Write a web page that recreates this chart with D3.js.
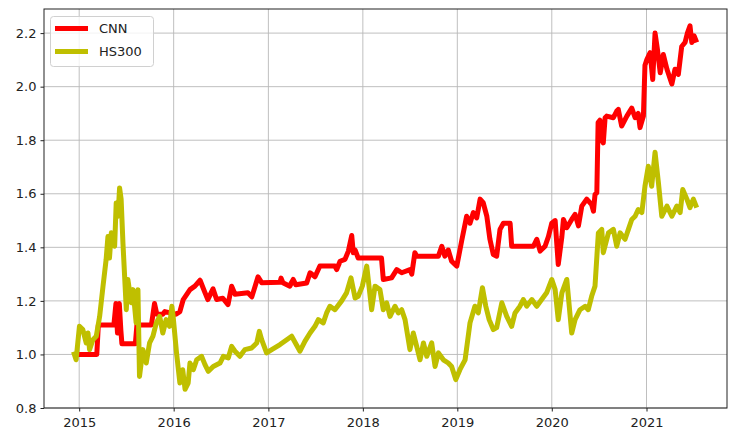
<!DOCTYPE html>
<html>
<head>
<meta charset="utf-8">
<script src="https://cdn.jsdelivr.net/npm/d3@7"></script>
<style>
  body { margin: 0; background: #fff; }
  svg { font-family: "DejaVu Sans", sans-serif; }
</style>
</head>
<body>
<svg id="grafico"></svg>
<script>
// datas e valores (CNN)
let datasCNN = [
  "2014-12-11","2015-03-10","2015-03-16","2015-05-15","2015-05-23","2015-05-29","2015-06-05","2015-06-11","2015-06-15","2015-08-06",
  "2015-08-12","2015-10-07","2015-10-19","2015-10-28","2015-11-20","2015-11-28","2016-01-10","2016-01-25","2016-02-07","2016-03-04",
  "2016-03-23","2016-04-12","2016-05-01","2016-05-12","2016-06-01","2016-06-15","2016-07-09","2016-07-29","2016-08-12","2016-08-25",
  "2016-10-14","2016-10-29","2016-11-22","2016-12-06","2017-02-15","2017-02-19","2017-02-26","2017-03-25","2017-04-01","2017-04-07",
  "2017-04-17","2017-05-29","2017-06-11","2017-06-30","2017-07-19","2017-09-15","2017-09-22","2017-10-05","2017-10-24","2017-11-06",
  "2017-11-19","2017-11-25","2017-12-02","2017-12-14","2018-03-14","2018-03-21","2018-04-22","2018-05-12","2018-05-31","2018-07-02",
  "2018-07-09","2018-07-21","2018-07-28","2018-10-20","2018-11-02","2018-11-14","2018-11-27","2018-12-10","2018-12-30","2019-01-18",
  "2019-02-06","2019-02-19","2019-03-04","2019-03-17","2019-03-30","2019-04-11","2019-04-25","2019-05-07","2019-05-20","2019-06-02",
  "2019-06-15","2019-06-28","2019-07-24","2019-07-30","2019-10-22","2019-11-04","2019-11-17","2019-12-06","2019-12-19","2020-01-01",
  "2020-01-14","2020-01-26","2020-02-09","2020-02-15","2020-02-28","2020-03-18","2020-03-31","2020-04-13","2020-04-26","2020-05-15",
  "2020-06-03","2020-06-10","2020-06-16","2020-06-23","2020-06-28","2020-07-05","2020-07-12","2020-07-18","2020-07-25","2020-07-31",
  "2020-08-26","2020-09-08","2020-09-14","2020-09-27","2020-10-17","2020-11-05","2020-11-18","2020-11-30","2020-12-07","2020-12-20",
  "2020-12-26","2021-01-02","2021-01-15","2021-01-25","2021-02-03","2021-02-12","2021-02-23","2021-03-07","2021-03-21","2021-04-09",
  "2021-04-21","2021-05-04","2021-05-17","2021-05-30","2021-06-08","2021-06-18","2021-06-25","2021-07-04","2021-07-14"
];
let valoresCNN = [
  1.00,1.00,1.11,1.11,1.19,1.08,1.19,1.09,1.04,1.04,
  1.11,1.11,1.19,1.15,1.15,1.16,1.15,1.16,1.205,1.242,
  1.255,1.277,1.231,1.205,1.245,1.205,1.21,1.186,1.255,1.225,
  1.23,1.215,1.29,1.268,1.27,1.285,1.268,1.255,1.27,1.28,
  1.26,1.267,1.305,1.29,1.33,1.33,1.317,1.348,1.355,1.386,
  1.444,1.38,1.39,1.36,1.36,1.28,1.286,1.317,1.305,1.317,
  1.30,1.38,1.367,1.367,1.404,1.367,1.39,1.348,1.33,1.425,
  1.516,1.49,1.53,1.51,1.58,1.567,1.516,1.43,1.373,1.367,
  1.467,1.49,1.49,1.404,1.404,1.43,1.386,1.404,1.44,1.49,
  1.50,1.336,1.44,1.504,1.473,1.504,1.523,1.48,1.554,1.58,
  1.56,1.535,1.597,1.604,1.866,1.875,1.80,1.79,1.884,1.89,
  1.884,1.909,1.915,1.853,1.89,1.92,1.884,1.90,1.847,1.89,
  2.08,2.10,2.127,2.027,2.20,2.14,2.052,2.12,2.065,2.01,
  2.065,2.046,2.15,2.165,2.20,2.227,2.165,2.19,2.165
];

// datas e valores do HS300
let datasHS300 = [
  "2014-12-10","2014-12-20","2015-01-02","2015-01-15","2015-01-28","2015-02-04","2015-02-10","2015-02-23","2015-03-08","2015-03-21",
  "2015-04-03","2015-04-15","2015-04-22","2015-04-28","2015-05-05","2015-05-18","2015-05-24","2015-05-31","2015-06-06","2015-06-12",
  "2015-06-19","2015-07-02","2015-07-08","2015-07-21","2015-07-28","2015-08-09","2015-08-16","2015-08-22","2015-09-04","2015-09-17",
  "2015-09-30","2015-10-13","2015-10-26","2015-11-08","2015-11-20","2015-12-03","2015-12-16","2015-12-25","2015-12-30","2016-01-12",
  "2016-01-25","2016-02-05","2016-02-14","2016-02-26","2016-03-04","2016-03-17","2016-03-30","2016-04-18","2016-05-01","2016-05-14",
  "2016-06-02","2016-06-28","2016-07-11","2016-07-30","2016-08-12","2016-08-25","2016-09-13","2016-10-02","2016-10-28","2016-11-17",
  "2016-11-27","2016-12-06","2016-12-25","2017-01-14","2017-02-15","2017-03-13","2017-04-01","2017-05-03","2017-05-22","2017-06-11",
  "2017-06-30","2017-07-13","2017-08-01","2017-08-14","2017-08-27","2017-09-15","2017-10-11","2017-10-30","2017-11-16","2017-12-02",
  "2017-12-14","2017-12-30","2018-01-16","2018-02-04","2018-02-17","2018-03-08","2018-03-21","2018-04-03","2018-04-16","2018-05-05",
  "2018-05-18","2018-05-31","2018-06-13","2018-07-02","2018-07-15","2018-07-28","2018-08-10","2018-08-23","2018-09-05","2018-09-24",
  "2018-10-07","2018-10-20","2018-11-08","2018-11-27","2018-12-10","2018-12-26","2019-01-11","2019-01-31","2019-02-19","2019-03-10",
  "2019-03-23","2019-04-08","2019-04-21","2019-05-04","2019-05-20","2019-06-02","2019-06-22","2019-07-11","2019-07-30","2019-08-12",
  "2019-08-31","2019-09-13","2019-09-26","2019-10-16","2019-11-04","2019-11-23","2019-12-12","2020-01-01","2020-01-14","2020-01-26",
  "2020-02-09","2020-02-28","2020-03-18","2020-03-31","2020-04-19","2020-05-09","2020-05-21","2020-06-03","2020-06-16","2020-06-29",
  "2020-07-12","2020-07-18","2020-08-07","2020-08-26","2020-09-08","2020-09-21","2020-10-10","2020-10-23","2020-11-05","2020-11-18",
  "2020-11-30","2020-12-14","2020-12-26","2021-01-08","2021-01-21","2021-02-03","2021-02-16","2021-03-01","2021-03-21","2021-04-09",
  "2021-04-28","2021-05-11","2021-05-21","2021-06-06","2021-06-18","2021-07-01","2021-07-14"
];
let valoresHS300 = [
  1.01,0.98,1.105,1.093,1.043,1.08,1.018,1.055,1.068,1.142,
  1.255,1.354,1.44,1.36,1.454,1.404,1.566,1.516,1.622,1.58,
  1.417,1.167,1.28,1.193,1.242,1.118,1.242,0.918,1.018,0.968,
  1.043,1.068,1.118,1.142,1.08,1.13,1.105,1.18,1.142,1.006,
  0.893,0.943,0.87,0.893,0.968,0.943,0.98,0.993,0.962,0.937,
  0.955,0.968,0.993,0.987,1.03,1.012,0.993,1.018,1.024,1.043,
  1.086,1.055,1.006,1.018,1.037,1.055,1.068,1.012,1.049,1.08,
  1.105,1.13,1.118,1.155,1.18,1.167,1.2,1.23,1.286,1.211,
  1.217,1.255,1.33,1.167,1.255,1.242,1.167,1.193,1.142,1.18,
  1.155,1.167,1.13,1.018,1.08,1.03,0.98,1.043,0.993,1.043,
  0.955,1.006,0.98,0.968,0.955,0.906,0.943,0.98,1.118,1.18,
  1.155,1.249,1.18,1.13,1.093,1.10,1.193,1.142,1.105,1.155,
  1.18,1.205,1.18,1.205,1.18,1.205,1.23,1.28,1.242,1.13,
  1.23,1.28,1.08,1.13,1.167,1.18,1.167,1.217,1.255,1.454,
  1.467,1.38,1.454,1.467,1.404,1.454,1.43,1.467,1.504,1.516,
  1.541,1.53,1.628,1.703,1.628,1.755,1.641,1.516,1.554,1.516,
  1.554,1.53,1.616,1.58,1.548,1.58,1.548
];

let ticksY = [0.8, 1.0, 1.2, 1.4, 1.6, 1.8, 2.0, 2.2];
let anosX = [2015, 2016, 2017, 2018, 2019, 2020, 2021];
let nomesSeries = ["CNN", "HS300"];
let coresSeries = ["#ff0000", "#bfbf00"];

function desenhaGrafico(){
    let width = 732, height = 435;
    let esq = 44, topo = 9, dir = 727, base = 408;

    let svg = d3.select("#grafico")
        .attr("width", width)
        .attr("height", height)
        .attr("viewBox", "0 0 " + width + " " + height);

    let parse = d3.timeParse("%Y-%m-%d");
    let series = [
        datasCNN.map((d, i) => ({ data: parse(d), valor: valoresCNN[i] })),
        datasHS300.map((d, i) => ({ data: parse(d), valor: valoresHS300[i] }))
    ];

    let x = d3.scaleTime()
        .domain([parse("2014-08-18"), parse("2021-11-08")])
        .range([esq, dir]);
    let y = d3.scaleLinear()
        .domain([0.8, 2.29])
        .range([base, topo]);

    let ticksData = anosX.map(a => new Date(a, 0, 1));

    // grade
    let grade = svg.append("g").attr("stroke", "#b8b8b8").attr("stroke-width", 0.9);
    grade.selectAll("line.gx").data(ticksData).enter().append("line")
        .attr("x1", d => x(d)).attr("x2", d => x(d))
        .attr("y1", topo).attr("y2", base);
    grade.selectAll("line.gy").data(ticksY).enter().append("line")
        .attr("x1", esq).attr("x2", dir)
        .attr("y1", d => y(d)).attr("y2", d => y(d));

    // linhas das séries
    let linha = d3.line()
        .x(d => x(d.data))
        .y(d => y(d.valor));

    svg.append("g").selectAll("path")
        .data(series)
        .enter().append("path")
        .attr("d", linha)
        .attr("fill", "none")
        .attr("stroke", (d, i) => coresSeries[i])
        .attr("stroke-width", 5)
        .attr("stroke-linejoin", "round");

    // eixos
    let eixoX = d3.axisBottom(x)
        .tickValues(ticksData)
        .tickFormat(d3.timeFormat("%Y"))
        .tickSize(3.5)
        .tickPadding(6);
    let eixoY = d3.axisLeft(y)
        .tickValues(ticksY)
        .tickFormat(d3.format(".1f"))
        .tickSize(3.5)
        .tickPadding(4);

    let gx = svg.append("g").attr("transform", "translate(0," + base + ")").call(eixoX);
    let gy = svg.append("g").attr("transform", "translate(" + esq + ",0)").call(eixoY);
    [gx, gy].forEach(function(g){
        g.select(".domain").remove();
        g.selectAll("line").attr("stroke", "#222");
        g.selectAll("text")
            .attr("fill", "#222")
            .style("font-size", "13px")
            .style("font-family", "'DejaVu Sans', sans-serif");
    });

    // moldura
    svg.append("rect")
        .attr("x", esq).attr("y", topo)
        .attr("width", dir - esq).attr("height", base - topo)
        .attr("fill", "none")
        .attr("stroke", "#222")
        .attr("stroke-width", 1);

    // legenda
    let leg = svg.append("g");
    leg.append("rect")
        .attr("x", 50.5).attr("y", 16.5)
        .attr("width", 103).attr("height", 50)
        .attr("rx", 3)
        .attr("fill", "#fff").attr("fill-opacity", 0.8)
        .attr("stroke", "#d0d0d0");
    nomesSeries.forEach(function(nome, i){
        let yy = 28.5 + i * 23;
        leg.append("line")
            .attr("x1", 55).attr("x2", 88)
            .attr("y1", yy).attr("y2", yy)
            .attr("stroke", coresSeries[i])
            .attr("stroke-width", 5);
        leg.append("text")
            .attr("x", 99).attr("y", yy)
            .attr("dy", "0.36em")
            .attr("fill", "#222")
            .style("font-size", "13px")
            .text(nome);
    });
}

desenhaGrafico();
</script>
</body>
</html>
